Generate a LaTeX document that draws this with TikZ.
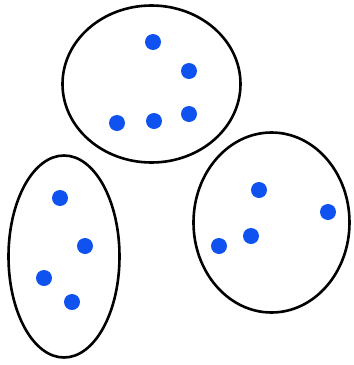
\documentclass[tikz,border=0pt]{standalone}
\usetikzlibrary{shapes.geometric}
\definecolor{dotblue}{RGB}{16,82,240}
\begin{document}
\begin{tikzpicture}[x=1pt,y=-1pt,
  cluster/.style={draw=black,line width=2.6pt,ellipse,inner sep=0pt},
  pt/.style={circle,fill=dotblue,inner sep=0pt,minimum size=16pt}]
\useasboundingbox (0,0) rectangle (354,365);
% clusters
\node[cluster,minimum width=178pt,minimum height=157pt] (top) at (151.5,84) {};
\node[cluster,minimum width=111pt,minimum height=202pt] (left) at (64,256.5) {};
\node[cluster,minimum width=156pt,minimum height=180pt] (right) at (271.5,222.5) {};
% top points
\node[pt] (t1) at (153,42) {};
\node[pt] (t2) at (189,71) {};
\node[pt] (t3) at (117,123) {};
\node[pt] (t4) at (154,121) {};
\node[pt] (t5) at (189,114) {};
% left points
\node[pt] (l1) at (60,198) {};
\node[pt] (l2) at (85,246) {};
\node[pt] (l3) at (44,278) {};
\node[pt] (l4) at (72,302) {};
% right points
\node[pt] (r1) at (259,190) {};
\node[pt] (r2) at (328,212) {};
\node[pt] (r3) at (219,246) {};
\node[pt] (r4) at (251,236) {};
\end{tikzpicture}
\end{document}
